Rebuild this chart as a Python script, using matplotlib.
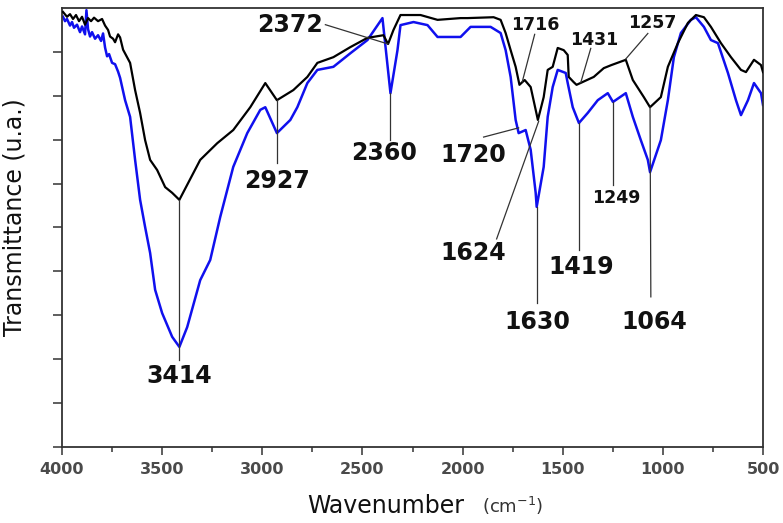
import numpy as np
import matplotlib
matplotlib.use("Agg")
import matplotlib.pyplot as plt

# ---------------- data ----------------
black_wn = [3995, 3975, 3960, 3945, 3930, 3915, 3900, 3885, 3870, 3855, 3840, 3820, 3800,
            3785, 3770, 3760, 3745, 3735, 3720, 3710, 3695, 3660, 3635, 3610, 3585, 3560,
            3525, 3485, 3450, 3414, 3310, 3225, 3145, 3060, 2985, 2927, 2845, 2775, 2725,
            2645, 2560, 2475, 2395, 2372, 2345, 2310, 2210, 2125, 2010, 1975, 1845, 1810,
            1785, 1760, 1735, 1716, 1690, 1660, 1635, 1624, 1595, 1575, 1550, 1525, 1495,
            1475, 1470, 1445, 1431, 1345, 1295, 1257, 1185, 1150, 1095, 1064, 1010, 975,
            925, 875, 835, 795, 760, 710, 660, 610, 585, 545, 510, 500]
black_t = [9.91, 9.80, 9.86, 9.75, 9.84, 9.70, 9.80, 9.62, 9.77, 9.70, 9.78, 9.70, 9.75,
           9.60, 9.50, 9.35, 9.30, 9.22, 9.40, 9.33, 9.05, 8.75, 8.13, 7.61, 6.99, 6.54,
           6.31, 5.92, 5.79, 5.63, 6.54, 6.92, 7.22, 7.74, 8.29, 7.90, 8.13, 8.43, 8.75,
           8.88, 9.11, 9.32, 9.38, 9.18, 9.50, 9.84, 9.84, 9.73, 9.77, 9.77, 9.79, 9.73,
           9.43, 9.04, 8.66, 8.25, 8.36, 8.20, 7.68, 7.45, 7.97, 8.59, 8.66, 9.09, 9.04,
           8.93, 8.43, 8.31, 8.25, 8.43, 8.63, 8.70, 8.82, 8.36, 7.97, 7.74, 7.97, 8.66,
           9.20, 9.66, 9.84, 9.79, 9.57, 9.20, 8.88, 8.59, 8.54, 8.82, 8.70, 8.54]

blue_wn = [3995, 3985, 3975, 3960, 3950, 3940, 3925, 3910, 3900, 3885, 3878, 3870, 3860,
           3850, 3835, 3820, 3805, 3795, 3785, 3775, 3765, 3750, 3735, 3720, 3710, 3685,
           3660, 3635, 3610, 3585, 3560, 3535, 3500, 3450, 3414, 3375, 3310, 3260, 3210,
           3145, 3075, 3010, 2985, 2927, 2860, 2825, 2775, 2725, 2645, 2560, 2475, 2400,
           2360, 2325, 2310, 2245, 2175, 2125, 2045, 2010, 1960, 1860, 1810, 1785, 1760,
           1735, 1720, 1685, 1660, 1635, 1630, 1595, 1575, 1550, 1525, 1485, 1475, 1450,
           1419, 1375, 1325, 1275, 1249, 1185, 1150, 1110, 1075, 1064, 1010, 975, 945,
           910, 860, 835, 795, 760, 725, 675, 635, 610, 575, 545, 510, 500]
blue_t = [9.80, 9.70, 9.75, 9.60, 9.68, 9.55, 9.62, 9.45, 9.58, 9.40, 9.95, 9.52, 9.35,
          9.45, 9.30, 9.38, 9.25, 9.42, 9.10, 8.90, 8.95, 8.75, 8.72, 8.55, 8.41, 7.90,
          7.52, 6.54, 5.63, 5.01, 4.42, 3.58, 3.05, 2.51, 2.28, 2.73, 3.80, 4.26, 5.24,
          6.38, 7.15, 7.68, 7.74, 7.15, 7.45, 7.74, 8.29, 8.59, 8.66, 8.97, 9.27, 9.77,
          8.06, 9.04, 9.61, 9.68, 9.61, 9.34, 9.34, 9.34, 9.57, 9.57, 9.43, 9.04, 8.43,
          7.45, 7.15, 7.22, 6.77, 5.79, 5.47, 6.38, 7.52, 8.20, 8.59, 8.52, 8.29, 7.74,
          7.38, 7.61, 7.90, 8.06, 7.86, 8.06, 7.52, 6.99, 6.54, 6.26, 6.99, 7.90, 8.88,
          9.43, 9.73, 9.79, 9.57, 9.27, 9.20, 8.52, 7.90, 7.56, 7.90, 8.29, 8.06, 7.79]

# peak labels: (text, curve, peak wavenumber)
labels = ["3414", "2927", "2372", "2360", "1716", "1431", "1257",
          "1720", "1624", "1630", "1419", "1249", "1064"]
label_curve = ["black", "black", "black", "blue", "black", "black", "black",
               "blue", "black", "blue", "blue", "blue", "black"]
label_wn = [3414, 2927, 2372, 2360, 1716, 1431, 1257,
            1720, 1624, 1630, 1419, 1249, 1064]

x_ticks = [4000, 3500, 3000, 2500, 2000, 1500, 1000, 500]

# ---------------- layout (positions / styles) ----------------
# text position (wn, T), leader end (wn, T), leader start override (wn) , size
ann_layout = {
    "3414": dict(text=(3414, 1.62), end=(3414, 1.98), big=True),
    "2927": dict(text=(2925, 6.06), end=(2927, 6.47), big=True),
    "2372": dict(text=(2860, 9.62), start=(2685, 9.62), end=(2372, 9.18), big=True),
    "2360": dict(text=(2390, 6.70), end=(2360, 6.99), big=True),
    "1716": dict(text=(1635, 9.62), start=(1640, 9.40), end=(1702, 8.32), big=False),
    "1431": dict(text=(1345, 9.27), start=(1360, 9.08), end=(1410, 8.30), big=False),
    "1257": dict(text=(1055, 9.66), start=(1075, 9.42), end=(1185, 8.84), big=False),
    "1720": dict(text=(1945, 6.65), start=(1895, 7.06), end=(1720, 7.27), big=True),
    "1624": dict(text=(1945, 4.42), start=(1830, 4.74), end=(1620, 7.42), big=True),
    "1630": dict(text=(1625, 2.85), end=(1630, 3.28), big=True),
    "1419": dict(text=(1410, 4.10), end=(1419, 4.49), big=True),
    "1249": dict(text=(1235, 5.67), end=(1249, 5.97), big=False),
    "1064": dict(text=(1045, 2.85), end=(1060, 3.42), big=True),
}

W, H = 783, 523
fig = plt.figure(figsize=(W / 100, H / 100), dpi=100)
ax = fig.add_axes([62 / W, 1 - 447 / H, 701 / W, 439 / H])

ax.plot(black_wn, black_t, color="black", lw=1.6, zorder=3)
ax.plot(blue_wn, blue_t, color="#1010ee", lw=1.8, zorder=2)

curves = {"black": (black_wn, black_t), "blue": (blue_wn, blue_t)}
for lab, cname, wn in zip(labels, label_curve, label_wn):
    lay = ann_layout[lab]
    cw, ct = curves[cname]
    yv = np.interp(wn, cw[::-1], ct[::-1])
    if "start" in lay:
        xs, ys = lay["start"]
        xe, ye = lay["end"]
        ax.plot([xs, xe], [ys, ye], color="#333333", lw=0.9, zorder=4)
    else:
        xe, ye = lay["end"]
        ax.plot([wn, xe], [yv, ye], color="#333333", lw=0.9, zorder=4)
    ax.text(lay["text"][0], lay["text"][1], lab, ha="center", va="center",
            fontsize=17 if lay["big"] else 12.5, fontweight="bold",
            color="#111111", zorder=5)

ax.set_xlim(4000, 500)
ax.set_ylim(0, 10)
ax.set_xticks(x_ticks)
ax.set_xticks(np.arange(500, 4001, 250), minor=True)
ax.set_yticks([0, 2, 4, 6, 8])
ax.set_yticks([1, 3, 5, 7, 9], minor=True)
ax.set_yticklabels([])
ax.set_xticklabels([str(v) for v in x_ticks], fontsize=11.5, fontweight="bold",
                   color="#4a4a4a")
ax.tick_params(axis="x", which="major", direction="out", length=6, width=1.1,
               color="#333333", pad=5)
ax.tick_params(axis="x", which="minor", direction="out", length=3.5, width=1.1,
               color="#333333")
ax.tick_params(axis="y", which="both", direction="out", length=6.5, width=1.1,
               color="#333333")
for s in ax.spines.values():
    s.set_linewidth(1.3)
    s.set_color("#333333")

ax.set_ylabel("Transmittance (u.a.)", fontsize=17, color="#111111")
ax.yaxis.set_label_coords(-0.05, 0.524)

fig.text(307 / W, 1 - 513 / H, "Wavenumber", fontsize=17, color="#111111",
         ha="left", va="baseline")
fig.text(482 / W, 1 - 513 / H, "(cm$^{-1}$)", fontsize=13, color="#333333",
         ha="left", va="baseline")

fig.savefig("out.png", dpi=100)
